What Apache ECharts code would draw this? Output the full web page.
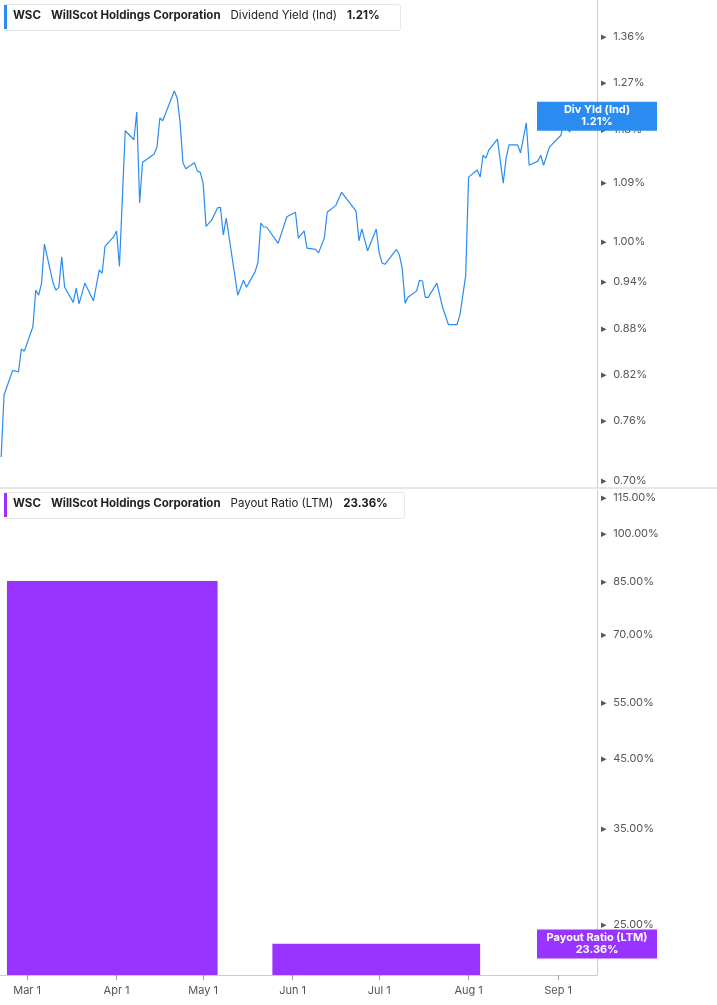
<!DOCTYPE html>
<html><head><meta charset="utf-8">
<script src="https://cdn.jsdelivr.net/npm/echarts@6/dist/echarts.min.js"></script>
<style>html,body{margin:0;padding:0;background:#fff}#c{width:717px;height:1005px}</style>
</head><body><div id="c"></div>
<script>
const baseDate = Date.UTC(2024, 2, 1);
const DAY = 86400000;
// [days from Mar 1, dividend yield %]
const yieldPoints = [[-9,0.723],[-8,0.794],[-5,0.824],[-3,0.822],[-2,0.851],[-1,0.848],[2,0.880],[3,0.930],[4,0.923],[5,0.940],[6,0.997],[9,0.940],[10,0.930],[11,0.934],[12,0.978],[13,0.934],[16,0.913],[17,0.933],[18,0.911],[20,0.940],[23,0.915],[25,0.959],[26,0.954],[27,0.994],[30,1.008],[31,1.017],[32,0.964],[34,1.183],[37,1.167],[38,1.217],[39,1.061],[40,1.128],[42,1.135],[44,1.142],[45,1.154],[46,1.206],[47,1.201],[51,1.256],[52,1.243],[53,1.199],[54,1.127],[55,1.117],[58,1.127],[59,1.113],[60,1.111],[61,1.093],[62,1.024],[64,1.034],[66,1.053],[67,1.054],[68,1.011],[69,1.037],[73,0.923],[75,0.944],[76,0.934],[79,0.956],[80,0.970],[81,1.029],[82,1.023],[83,1.023],[87,0.998],[90,1.039],[93,1.046],[94,1.006],[96,1.017],[97,0.991],[100,0.989],[101,0.984],[103,1.006],[104,1.046],[107,1.057],[109,1.078],[114,1.048],[115,1.002],[116,1.020],[118,0.987],[121,1.020],[122,0.984],[123,0.969],[124,0.967],[128,0.989],[129,0.981],[130,0.961],[131,0.912],[132,0.920],[135,0.929],[136,0.944],[137,0.943],[138,0.920],[139,0.920],[142,0.940],[144,0.906],[146,0.883],[149,0.883],[150,0.896],[152,0.951],[153,1.103],[156,1.115],[157,1.103],[158,1.140],[159,1.135],[160,1.149],[163,1.168],[165,1.093],[166,1.135],[167,1.158],[170,1.158],[171,1.144],[173,1.197],[174,1.123],[177,1.130],[178,1.140],[179,1.123],[181,1.154],[185,1.175],[186,1.197],[188,1.181],[191,1.21]];
const yieldTicks = [0.70,0.76,0.82,0.88,0.94,1.00,1.09,1.18,1.27,1.36];
// payout ratio periods: [start day, end day, value %]
const payoutBars = [[-7,66,85.0],[85,157,23.36]];
const payoutTicks = [25,35,45,55,70,85,100,115];
const xStartDay = -9.4, xEndDay = 197.5;

const t = d => baseDate + d * DAY;
const ln = Math.log;
const yMinA = ln(0.691), yMaxA = ln(1.441);
const yMinB = ln(20.9), yMaxB = ln(117.5);

const tickLine = (vals, fmt) => vals.map(v => ({yAxis: ln(v), label: {formatter: fmt(v)}}));
const tickLabel = {show: true, position: 'end', color: '#555', fontSize: 11, fontFamily: 'Inter', distance: 4};
const hiddenLine = {color: 'rgba(0,0,0,0)', width: 0, type: 'solid'};
const boxLabel = (text, bg) => ({formatter: text, position: 'end', distance: 0, backgroundColor: bg, color: '#fff', fontWeight: 'bold',
  fontSize: 11, lineHeight: 12, width: 120, align: 'center', padding: [3, 0, 2, 0], fontFamily: 'Inter'});

const lastYield = yieldPoints[yieldPoints.length - 1][1];
const lastPayout = payoutBars[payoutBars.length - 1][2];

const chart = echarts.init(document.getElementById('c'));
chart.setOption({
  animation: false,
  grid: [
    {left: 0, right: 120, top: 0, height: 487},
    {left: 0, right: 120, top: 490, bottom: 30}
  ],
  xAxis: [
    {type: 'time', gridIndex: 0, min: t(xStartDay), max: t(xEndDay), show: false},
    {type: 'time', gridIndex: 1, min: t(xStartDay), max: t(xEndDay), splitNumber: 7,
     axisLine: {lineStyle: {color: '#ccc'}}, axisTick: {show: true, lineStyle: {color: '#999'}},
     splitLine: {show: false}, minorTick: {show: false},
     axisLabel: {color: '#555', fontSize: 11, fontFamily: 'Inter', margin: 10,
       formatter: v => { const d = new Date(v); return d.getUTCDate() === 1 ? ['Jan','Feb','Mar','Apr','May','Jun','Jul','Aug','Sep','Oct','Nov','Dec'][d.getUTCMonth()] + ' 1' : ''; }}}
  ],
  yAxis: [
    {type: 'value', gridIndex: 0, position: 'right', min: yMinA, max: yMaxA, axisLabel: {show: false},
     splitLine: {show: false}, axisTick: {show: false}, axisLine: {show: true, lineStyle: {color: '#ccc'}}},
    {type: 'value', gridIndex: 1, position: 'right', min: yMinB, max: yMaxB, axisLabel: {show: false},
     splitLine: {show: false}, axisTick: {show: false}, axisLine: {show: true, lineStyle: {color: '#ccc'}}}
  ],
  series: [
    {type: 'line', xAxisIndex: 0, yAxisIndex: 0, symbol: 'none',
     lineStyle: {color: '#2a8cf0', width: 1.2},
     data: yieldPoints.map(p => [t(p[0]), ln(p[1])]),
     markLine: {silent: true, symbol: 'none', lineStyle: hiddenLine, label: tickLabel,
       data: tickLine(yieldTicks, v => '▸  ' + v.toFixed(2) + '%').concat([{
         yAxis: ln(lastYield), label: boxLabel('Div Yld (Ind)\n' + lastYield.toFixed(2) + '%', '#2a8cf0')}])}},
    {type: 'custom', xAxisIndex: 1, yAxisIndex: 1,
     data: payoutBars.map(b => [t(b[0]), t(b[1]), ln(b[2])]),
     renderItem: (params, api) => {
       const p1 = api.coord([api.value(0), api.value(2)]);
       const p2 = api.coord([api.value(1), yMinB]);
       return {type: 'rect', shape: {x: p1[0], y: p1[1], width: p2[0] - p1[0], height: p2[1] - p1[1]},
         style: {fill: '#9933ff'}};
     },
     markLine: {silent: true, symbol: 'none', lineStyle: hiddenLine, label: tickLabel,
       data: tickLine(payoutTicks, v => '▸  ' + v.toFixed(2) + '%').concat([{
         yAxis: ln(lastPayout), label: boxLabel('Payout Ratio (LTM)\n' + lastPayout.toFixed(2) + '%', '#9933ff')}])}}
  ],
  graphic: [
    {type: 'line', shape: {x1: 0, y1: 488, x2: 717, y2: 488}, style: {stroke: '#ccc', lineWidth: 1}},
    {type: 'rect', left: 4, top: 4, shape: {width: 396, height: 26, r: 2}, style: {fill: '#fff', stroke: '#e6e6e6'}},
    {type: 'rect', left: 4, top: 5, shape: {width: 3, height: 24}, style: {fill: '#2a8cf0'}},
    {type: 'text', left: 13, top: 10, style: {rich: {b: {fontWeight: 'bold', fontSize: 11.5, fontFamily: 'Inter', fill: '#222'}, n: {fontSize: 11.5, fontFamily: 'Inter', fill: '#222'}},
      text: '{b|WSC}   {b|WillScot Holdings Corporation}   {n|Dividend Yield (Ind)}   {b|1.21%}'}},
    {type: 'rect', left: 4, top: 492, shape: {width: 400, height: 26, r: 2}, style: {fill: '#fff', stroke: '#e6e6e6'}},
    {type: 'rect', left: 4, top: 493, shape: {width: 3, height: 24}, style: {fill: '#9933ff'}},
    {type: 'text', left: 13, top: 498, style: {rich: {b: {fontWeight: 'bold', fontSize: 11.5, fontFamily: 'Inter', fill: '#222'}, n: {fontSize: 11.5, fontFamily: 'Inter', fill: '#222'}},
      text: '{b|WSC}   {b|WillScot Holdings Corporation}   {n|Payout Ratio (LTM)}   {b|23.36%}'}}
  ]
});
</script></body></html>
